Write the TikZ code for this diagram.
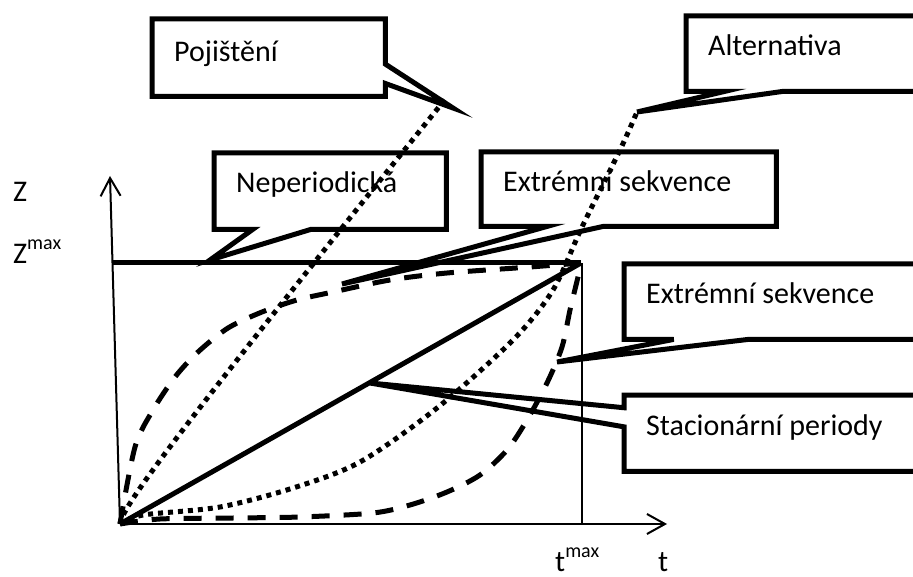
\documentclass[tikz,border=0pt]{standalone}
\usepackage{fontspec}
\setmainfont{Carlito}
\usetikzlibrary{positioning,calc,arrows.meta}

\newcommand{\supmax}{\raisebox{14pt}{\fontsize{20}{24}\selectfont max}}

\begin{document}
\begin{tikzpicture}[x=1pt,y=-1pt,
  lbl/.style={inner sep=0pt,anchor=base west,font=\fontsize{30}{36}\selectfont},
  box/.style={draw=none,inner sep=0pt,anchor=north west},
  wedge/.style={line width=5pt,line join=miter},
  axis/.style={line width=2pt,-{Straight Barb[length=18pt,width=20pt]}},
  dots/.style={line width=5pt,dash pattern=on 5pt off 5pt},
  dashes/.style={line width=5pt,dash pattern=on 18pt off 14pt}]

  \useasboundingbox (0,0) rectangle (913,577);
  \clip (0,0) rectangle (913,577);

  % Axes
  \coordinate (O) at (120,524);
  \coordinate (P) at (581,263);
  \coordinate (ytop) at (110,176);
  \coordinate (xend) at (667,524);
  \coordinate (zmax) at (112,263);
  \coordinate (tmax) at (582,524);
  \draw[axis] (O) -- (ytop);
  \draw[axis] (O) -- (xend);
  \draw[line width=2pt] (tmax) -- (tmax |- P);
  \draw[line width=5pt] (zmax) -- (P);

  \node[lbl] (zl) at (13,202) {Z};
  \node[lbl] (zmaxl) at (13,264) {Z\supmax};
  \node[lbl] (tmaxl) at (555,571) {t\supmax};
  \node[lbl] (tl) at (658,571) {t};

  % Curves
  \draw[line width=5pt] (O) -- (P);
  \draw[dots] (O) .. controls (121,506) and (200,404) .. (447,97);
  \draw[dots] plot[smooth] coordinates {(120,524) (143,515) (220,507) (293,488)
    (360,462) (437,408) (513,340) (553,290) (582,227) (620,150) (637,112)};
  \draw[dashes] plot[smooth] coordinates {(120,524) (135,447) (153,410) (175,377)
    (198,352) (228,328) (262,312) (297,300) (333,292) (390,280) (447,273) (530,267) (581,263)};
  \draw[dashes] plot[smooth] coordinates {(120,524) (160,519) (233,518) (300,517)
    (373,513) (410,505) (447,492) (480,475) (507,450) (527,420) (547,383) (562,347)
    (570,310) (578,277) (581,263)};

  % Tips of the callouts
  \coordinate (tpoj) at (453,108);
  \coordinate (talt) at (637,112);
  \coordinate (tnep) at (210,260);
  \coordinate (tex1) at (342,284);
  \coordinate (tex2) at (557,362);
  \coordinate (tsta) at (370,383);

  % Callout: Pojisteni
  \node[box,minimum width=233pt,minimum height=77pt] (poj) at (152,19) {};
  \node[lbl] (pojt) at ($(poj.north west)+(22,43)$) {Pojištění};
  \draw[wedge] (poj.north west) -- (poj.north east)
    -- ($(poj.north east)!7/12!(poj.south east)$) -- (tpoj)
    -- ($(poj.north east)!10/12!(poj.south east)$) -- (poj.south east)
    -- (poj.south west) -- cycle;

  % Callout: Alternativa
  \node[box,minimum width=232pt,minimum height=75pt] (alt) at (686,16) {};
  \node[lbl] (altt) at ($(alt.north west)+(22,40)$) {Alternativa};
  \draw[wedge] (alt.north west) -- (alt.north east) -- (alt.south east)
    -- ($(alt.south west)!5/12!(alt.south east)$) -- (talt)
    -- ($(alt.south west)!2/12!(alt.south east)$) -- (alt.south west) -- cycle;

  % Callout: Neperiodicka
  \node[box,minimum width=232pt,minimum height=76pt] (nep) at (214,153) {};
  \node[lbl] (nept) at ($(nep.north west)+(22,40)$) {Neperiodická};
  \draw[wedge] (nep.north west) -- (nep.north east) -- (nep.south east)
    -- ($(nep.south west)!5/12!(nep.south east)$) -- (tnep)
    -- ($(nep.south west)!2/12!(nep.south east)$) -- (nep.south west) -- cycle;

  % Callout: Extremni sekvence (upper)
  \node[box,minimum width=295pt,minimum height=74pt] (ex1) at (481,152) {};
  \node[lbl] (ex1t) at ($(ex1.north west)+(22,40)$) {Extrémní sekvence};
  \draw[wedge] (ex1.north west) -- (ex1.north east) -- (ex1.south east)
    -- ($(ex1.south west)!0.414!(ex1.south east)$) -- (tex1)
    -- ($(ex1.south west)!0.224!(ex1.south east)$) -- (ex1.south west) -- cycle;

  % Callout: Extremni sekvence (lower)
  \node[box,minimum width=298pt,minimum height=75pt] (ex2) at (624,264) {};
  \node[lbl] (ex2t) at ($(ex2.north west)+(22,40)$) {Extrémní sekvence};
  \draw[wedge] (ex2.north west) -- (ex2.north east) -- (ex2.south east)
    -- ($(ex2.south west)!5/12!(ex2.south east)$) -- (tex2)
    -- ($(ex2.south west)!2/12!(ex2.south east)$) -- (ex2.south west) -- cycle;

  % Callout: Stacionarni periody
  \node[box,minimum width=298pt,minimum height=76pt] (sta) at (624,395) {};
  \node[lbl] (stat) at ($(sta.north west)+(22,40)$) {Stacionární periody};
  \draw[wedge] (sta.north west) -- (sta.north east) -- (sta.south east)
    -- (sta.south west) -- ($(sta.north west)!5/12!(sta.south west)$) -- (tsta)
    -- ($(sta.north west)!2/12!(sta.south west)$) -- cycle;
\end{tikzpicture}
\end{document}
